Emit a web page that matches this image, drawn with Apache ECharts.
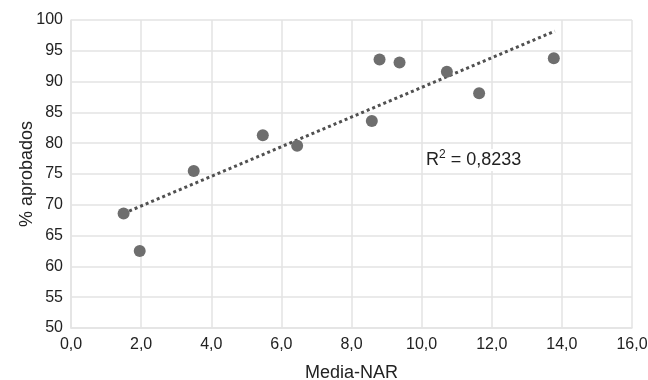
<!DOCTYPE html>
<html>
<head>
<meta charset="utf-8">
<title>Media-NAR vs % aprobados</title>
<script src="https://cdn.jsdelivr.net/npm/echarts@6/dist/echarts.min.js"></script>
<style>
    html, body {margin: 0; padding: 0; background: #fff;}
    #chart {width: 648px; height: 380px;}
</style>
</head>
<body>
<div id="chart"></div>
<script>
"use strict";
// datos
var mediaNar = [1.5, 1.96, 3.5, 5.47, 6.45, 8.58, 8.8, 9.37, 10.72, 11.64, 13.77];
var aprobados = [68.6, 62.5, 75.5, 81.3, 79.6, 83.6, 93.6, 93.1, 91.6, 88.1, 93.8];
// extremos de la linea de tendencia
var trendX = [1.5, 13.8];
var trendY = [68.6, 98.2];
var r2Value = "0,8233";

var font = "'Liberation Sans', Arial, sans-serif";

function comma(v) {
    return v.toFixed(1).replace(".", ",");
}

function initChart() {
    var chart = echarts.init(document.getElementById("chart"), null, {renderer: "canvas"});
    var points = mediaNar.map(function (x, i) { return [x, aprobados[i]]; });
    var trend = trendX.map(function (x, i) { return [x, trendY[i]]; });
    var gridLine = {show: true, lineStyle: {color: "#e3e3e3", width: 1.5}};

    chart.setOption({
        animation: false,
        textStyle: {fontFamily: font},
        grid: {left: 71, right: 16, top: 20, bottom: 52, containLabel: false, outerBoundsMode: "none"},
        xAxis: {
            type: "value", min: 0, max: 16, interval: 2,
            name: "Media-NAR", nameLocation: "middle", nameGap: 36,
            nameTextStyle: {fontSize: 18, color: "#222", fontFamily: font},
            axisLine: {show: true, lineStyle: {color: "#e3e3e3", width: 1.5}},
            axisTick: {show: false},
            axisLabel: {fontSize: 16, color: "#222", margin: 9, formatter: comma},
            splitLine: gridLine
        },
        yAxis: {
            type: "value", min: 50, max: 100, interval: 5,
            name: "% aprobados", nameLocation: "middle", nameGap: 35, nameRotate: 90,
            nameMoveOverlap: false,
            nameTextStyle: {fontSize: 18, color: "#222", fontFamily: font},
            axisLine: {show: true, lineStyle: {color: "#e3e3e3", width: 1.5}},
            axisTick: {show: false},
            axisLabel: {fontSize: 16, color: "#222", margin: 8},
            splitLine: gridLine
        },
        series: [{
            type: "line",
            data: trend,
            symbol: "none",
            lineStyle: {type: "dotted", color: "#505050", width: 3},
            z: 3
        }, {
            type: "scatter",
            data: points,
            symbolSize: 12,
            itemStyle: {color: "#6e6e6e", opacity: 1},
            z: 4
        }],
        graphic: [{
            type: "text",
            left: 424, top: 149,
            z: 10,
            style: {
                text: "{b|R}{s|2}{b| = " + r2Value + "}",
                backgroundColor: "#fff",
                padding: [0, 2],
                rich: {
                    b: {fontSize: 18, lineHeight: 22, fill: "#222", fontFamily: font},
                    s: {fontSize: 12, lineHeight: 22, verticalAlign: "top", fill: "#222", fontFamily: font}
                }
            }
        }]
    });
}

initChart();
</script>
</body>
</html>
